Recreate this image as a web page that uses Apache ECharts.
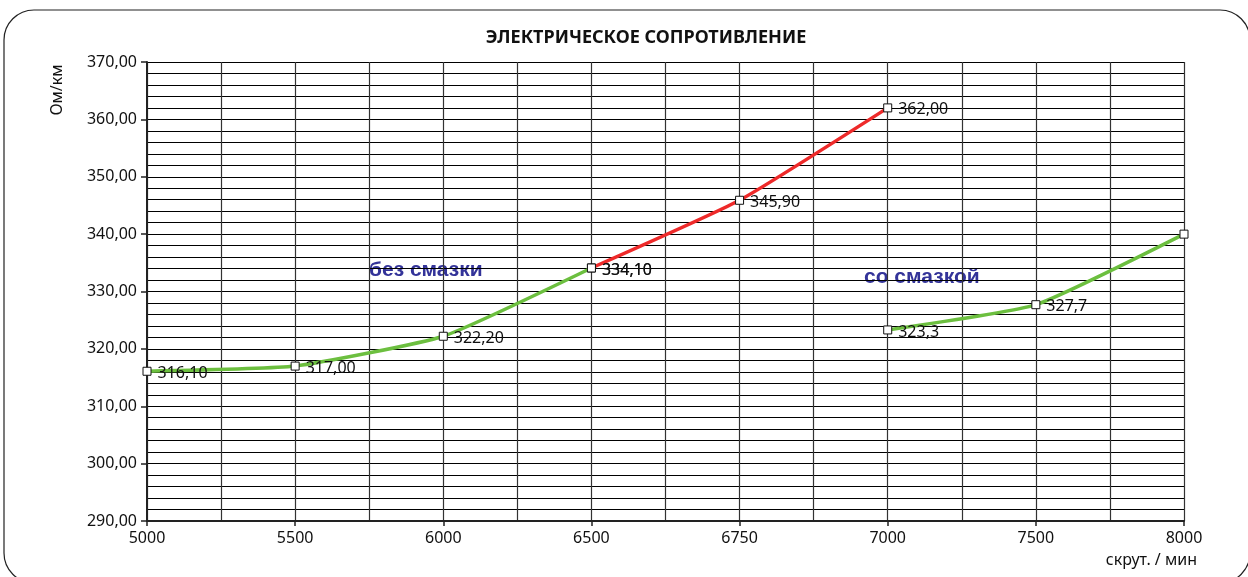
<!DOCTYPE html>
<html>
<head>
    <meta charset="utf-8">
    <script src="https://cdn.jsdelivr.net/npm/echarts@6/dist/echarts.min.js"></script>
    <style>
        html, body { margin: 0; padding: 0; background: #fff; }
    </style>
</head>
<body>
<div id="main" style="width: 1248px;height:577px;"></div>

<script type="text/javascript">
    // скорости (ось X)
    var categories = ['5000', '5500', '6000', '6500', '6750', '7000', '7500', '8000'];
    // без смазки: 5000 ... 7000
    var noGrease = [316.1, 317.0, 322.2, 334.1, 345.9, 362.0];
    var noGreaseLabels = ['316,10', '317,00', '322,20', '334,10', '345,90', '362,00'];
    // со смазкой: 7000 ... 8000
    var withGrease = [323.3, 327.7, 340.0];
    var withGreaseLabels = ['323,3', '327,7', ''];
    var yTicks = [290, 300, 310, 320, 330, 340, 350, 360, 370];

    var GREEN = '#6cbf3f';
    var RED = '#ee2a2a';
    var FONT = '"Noto Sans", "Open Sans", sans-serif';

    function pairs(values, start, from, to) {
        var out = [];
        for (var i = from; i <= to; i++) {
            out.push([start + i, values[i]]);
        }
        return out;
    }

    function lineSeries(name, data, color, labels, labelFrom, z) {
        return {
            name: name,
            type: 'line',
            data: data,
            smooth: 0.15,
            z: z,
            symbol: 'rect',
            symbolSize: 8,
            showSymbol: true,
            lineStyle: { color: color, width: 3.5 },
            itemStyle: { color: '#fff', borderColor: '#111', borderWidth: 1 },
            label: {
                show: true,
                position: 'right',
                distance: 6,
                offset: [0, 2],
                fontFamily: FONT,
                fontSize: 16,
                color: '#111',
                formatter: function (p) {
                    var i = p.dataIndex + labelFrom;
                    return labels[i] == null ? '' : labels[i];
                }
            },
            emphasis: { disabled: true },
            animation: false
        };
    }

    var dom = document.getElementById('main');
    var myChart = echarts.init(dom);

    var option = {
        backgroundColor: '#fff',
        animation: false,
        title: {
            text: 'ЭЛЕКТРИЧЕСКОЕ СОПРОТИВЛЕНИЕ',
            left: 641,
            top: 24,
            textAlign: 'center',
            textStyle: { fontFamily: FONT, fontSize: 18, fontWeight: 'bold', color: '#111' }
        },
        grid: { left: 147, right: 64, top: 62, bottom: 56 },
        xAxis: {
            type: 'value',
            min: 0,
            max: categories.length - 1,
            interval: 1,
            axisLine: { show: true, lineStyle: { color: '#222', width: 2 } },
            axisTick: { show: true, length: 5, lineStyle: { color: '#222', width: 1.5 } },
            axisLabel: {
                fontFamily: FONT, fontSize: 16, color: '#111', margin: 9,
                formatter: function (v) { return categories[v] || ''; }
            },
            splitLine: { show: true, lineStyle: { color: '#333', width: 1.2 } },
            minorTick: { show: false, splitNumber: 2 },
            minorSplitLine: { show: true, lineStyle: { color: '#333', width: 1.2 } }
        },
        yAxis: {
            type: 'value',
            min: yTicks[0],
            max: yTicks[yTicks.length - 1],
            interval: 10,
            axisLine: { show: true, lineStyle: { color: '#222', width: 2 } },
            axisTick: { show: true, length: 6, lineStyle: { color: '#222', width: 1.5 } },
            axisLabel: {
                fontFamily: FONT, fontSize: 16, color: '#111', margin: 10,
                formatter: function (v) { return v.toFixed(2).replace('.', ','); }
            },
            splitLine: { show: true, lineStyle: { color: '#000', width: 1.2 } },
            minorTick: { show: false, splitNumber: 5 },
            minorSplitLine: { show: true, lineStyle: { color: '#000', width: 1.2 } }
        },
        series: [
            lineSeries('без смазки', pairs(noGrease, 0, 0, 3), GREEN, noGreaseLabels, 0, 4),
            lineSeries('без смазки ', pairs(noGrease, 0, 3, 5), RED, noGreaseLabels, 3, 3),
            lineSeries('со смазкой', pairs(withGrease, 5, 0, 2), GREEN, withGreaseLabels, 0, 3)
        ],
        graphic: [
            {
                type: 'rect',
                shape: { x: 4, y: 10, width: 1246, height: 573, r: 30 },
                style: { fill: 'none', stroke: '#222', lineWidth: 1.2 },
                silent: true
            },
            {
                type: 'text',
                rotation: Math.PI / 2,
                x: 57,
                y: 90,
                style: {
                    text: 'Ом/км', font: '16px ' + FONT, fill: '#111',
                    align: 'center', verticalAlign: 'middle'
                }
            },
            {
                type: 'text',
                x: 1197,
                y: 560,
                style: {
                    text: 'скрут. / мин', font: '16px ' + FONT, fill: '#111',
                    align: 'right', verticalAlign: 'middle'
                }
            },
            {
                type: 'text',
                x: 369,
                y: 270,
                style: {
                    text: 'без смазки', font: 'bold 21px "Liberation Sans", Arial, sans-serif',
                    fill: '#333399', align: 'left', verticalAlign: 'middle'
                }
            },
            {
                type: 'text',
                x: 864,
                y: 277,
                style: {
                    text: 'со смазкой', font: 'bold 21px "Liberation Sans", Arial, sans-serif',
                    fill: '#333399', align: 'left', verticalAlign: 'middle'
                }
            }
        ]
    };

    myChart.setOption(option, true);
</script>
</body>
</html>
